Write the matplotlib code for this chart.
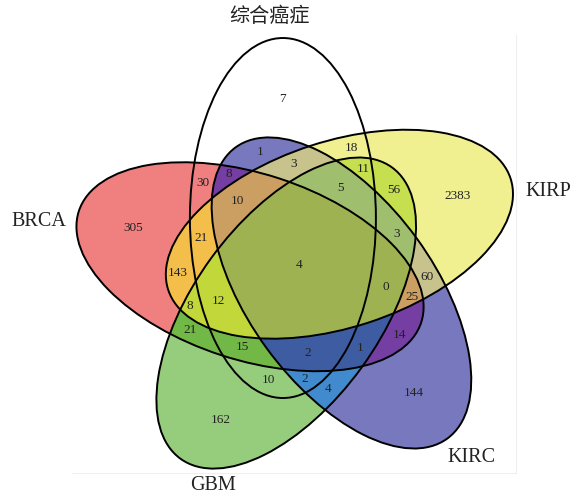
import numpy as np
import matplotlib
matplotlib.use("Agg")
import matplotlib.pyplot as plt
from matplotlib.patches import Ellipse

# 集合名称（顺序：综合癌症, BRCA, GBM, KIRC, KIRP）
set_names = ["综合癌症", "BRCA", "GBM", "KIRC", "KIRP"]

# 各区域的基因数
counts = [7, 305, 2383, 144, 162,
          30, 1, 18, 10, 143, 21, 14, 56, 60, 4,
          8, 3, 21, 11, 8, 15, 2, 1, 25, 3,
          10, 5, 12, 2, 0,
          4]

# 区域数字的位置（像素坐标）
label_xy = [(282, 99), (133, 228), (458, 196), (414, 393), (221, 420),
            (203, 183), (260, 152), (351, 148), (268, 380), (178, 273),
            (190, 330), (399, 335), (394, 190), (427, 277), (328, 389),
            (229, 174), (294, 164), (201, 238), (363, 169), (190, 306),
            (242, 347), (305, 379), (360, 348), (412, 297), (397, 234),
            (237, 201), (341, 188), (218, 301), (308, 353), (386, 287),
            (299, 265)]

# 集合名称位置
name_xy = [(270, 16), (39, 222), (213, 486), (471, 457), (548, 191)]

# 椭圆布局：五个椭圆绕中心旋转对称
W, H = 583, 497
cx, cy, r = 300, 265, 50
a, b = 180, 93
phis = np.deg2rad(250 - 72 * np.arange(5))
centers = np.c_[cx + r * np.cos(phis), cy + r * np.sin(phis)]
angles = np.rad2deg(phis) - 160

# 颜色按 BRCA/KIRP/KIRC/GBM 组合取（综合癌症不填色）
# 编码: BRCA=1, KIRP=2, KIRC=4, GBM=8
region_colors = {
    0: (255, 255, 255),
    1: (240, 128, 128),
    2: (240, 240, 145),
    4: (120, 120, 190),
    8: (150, 205, 125),
    3: (245, 190, 75),
    5: (116, 62, 162),
    9: (115, 185, 70),
    6: (200, 195, 140),
    10: (198, 224, 78),
    12: (65, 138, 205),
    7: (203, 160, 98),
    11: (195, 215, 58),
    13: (62, 92, 162),
    14: (160, 190, 110),
    15: (160, 178, 82),
}

def inside(k, xx, yy):
    t = np.deg2rad(angles[k])
    dx, dy = xx - centers[k, 0], yy - centers[k, 1]
    u = dx * np.cos(t) + dy * np.sin(t)
    v = -dx * np.sin(t) + dy * np.cos(t)
    return (u / a) ** 2 + (v / b) ** 2 <= 1

ss = 3
xs = (np.arange(W * ss) + 0.5) / ss
ys = (np.arange(H * ss) + 0.5) / ss
xx, yy = np.meshgrid(xs, ys)
code = (inside(1, xx, yy) * 1 + inside(4, xx, yy) * 2
        + inside(3, xx, yy) * 4 + inside(2, xx, yy) * 8)
lut = np.zeros((16, 3))
for key, col in region_colors.items():
    lut[key] = np.array(col) / 255
img = lut[code]

fig = plt.figure(figsize=(W / 100, H / 100), dpi=100)
ax = fig.add_axes([0, 0, 1, 1])
ax.imshow(img, extent=(0, W, H, 0), interpolation="antialiased")
ax.set_xlim(0, W)
ax.set_ylim(H, 0)
ax.axis("off")

# 浅灰色边框线
ax.plot([516, 516], [35, 473], color="#efefef", lw=0.8)
ax.plot([72, 516], [473, 473], color="#efefef", lw=0.8)

for k in range(5):
    ax.add_patch(Ellipse(centers[k], 2 * a, 2 * b, angle=angles[k],
                         fill=False, ec="black", lw=1.4))

for n, (x, y) in zip(counts, label_xy):
    ax.text(x, y, str(n), ha="center", va="center", fontsize=9.5,
            family="Liberation Serif", color="#222222")

for k, (x, y) in enumerate(name_xy):
    fam = ["Noto Sans CJK SC", "DejaVu Sans"] if k == 0 else "Liberation Serif"
    ax.text(x, y, set_names[k], ha="center", va="center", fontsize=14.5,
            family=fam, color="#222222")

fig.savefig("out.png", dpi=100)
